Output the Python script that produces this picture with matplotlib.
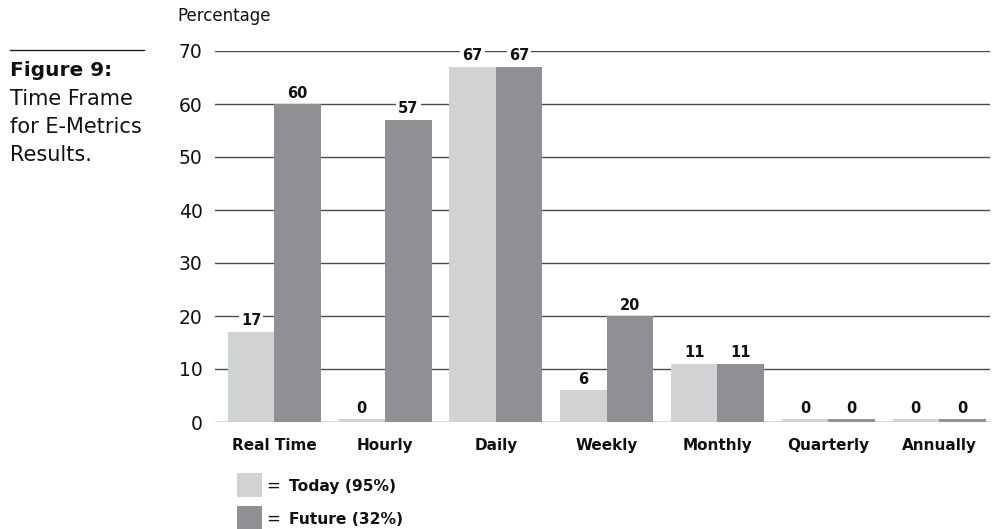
import matplotlib
matplotlib.use("Agg")
import matplotlib.pyplot as plt
from matplotlib.patches import Rectangle
from matplotlib.lines import Line2D
import numpy as np

plt.rcParams['font.family'] = ['DejaVu Sans']

categories = ["Real Time", "Hourly", "Daily", "Weekly", "Monthly", "Quarterly", "Annually"]
today = [17, 0, 67, 6, 11, 0, 0]
future = [60, 57, 67, 20, 11, 0, 0]
yticks = [0, 10, 20, 30, 40, 50, 60, 70]
legend_labels = ["Today (95%)", "Future (32%)"]

LIGHT = "#d1d2d4"
DARK = "#8f9094"
GRID = "#4a4a4a"
INK = "#111111"

W, H = 992, 529
fig = plt.figure(figsize=(W / 100, H / 100), dpi=100)
ax = fig.add_axes([215 / W, 107 / H, 775 / W, 371 / H])

x = np.arange(len(categories))
bw = 0.42
stub = 0.5  # thin floor shown for zero-valued bars

for vals, off, col in [(today, -bw / 2, LIGHT), (future, bw / 2, DARK)]:
    v = np.array(vals, dtype=float)
    ax.bar(x + off, v, width=bw, color=col, linewidth=0, zorder=3)
    zero = v == 0
    ax.bar((x + off)[zero], stub, width=bw, color=col, linewidth=0, zorder=3)
    for xi, vi in zip(x + off, v):
        ax.annotate(f"{int(vi)}", (xi, max(vi, stub)), xytext=(0, 2.5),
                    textcoords="offset points", ha="center", va="bottom",
                    fontsize=10.5, fontweight="bold", color=INK, zorder=5,
                    bbox=dict(boxstyle="square,pad=0.15", fc="white", ec="none"))

ax.set_xlim(-0.535, len(categories) - 1 + 0.46)
ax.set_ylim(0, 70)
ax.set_yticks(yticks)
ax.set_yticklabels([str(t) for t in yticks], fontsize=13.5, color=INK)
ax.set_xticks(x)
ax.set_xticklabels(categories, fontsize=11, fontweight="bold", color=INK)
ax.tick_params(axis="both", length=0)
ax.tick_params(axis="y", pad=9)
ax.tick_params(axis="x", pad=11.5)
for s in ax.spines.values():
    s.set_visible(False)
ax.yaxis.grid(True, color=GRID, linewidth=1.0, zorder=1)
ax.set_axisbelow(True)

# y-axis title
fig.text(224 / W, 1 - 16 / H, "Percentage", fontsize=12, color=INK,
         ha="center", va="center")

# figure caption on the left
fig.add_artist(Line2D([10 / W, 144 / W], [1 - 50 / H, 1 - 50 / H],
                      color="#222222", linewidth=1.0))
fig.text(10 / W, 1 - 71 / H, "Figure 9:", fontsize=14.5, fontweight="bold",
         color=INK, va="center")
for i, line in enumerate(["Time Frame", "for E-Metrics", "Results."]):
    fig.text(10 / W, 1 - (99 + 28 * i) / H, line, fontsize=15,
             color=INK, va="center")

# legend below the chart
for i, (lab, col) in enumerate(zip(legend_labels, [LIGHT, DARK])):
    top = 473 + 33 * i
    fig.add_artist(Rectangle((237 / W, 1 - (top + 24) / H), 25 / W, 24 / H,
                             facecolor=col, edgecolor="none",
                             transform=fig.transFigure))
    yc = 1 - (top + 13) / H
    fig.text(266 / W, yc, "=", fontsize=12, color=INK, va="center")
    fig.text(289 / W, yc, lab, fontsize=11.2, fontweight="bold",
             color=INK, va="center")

fig.savefig("out.png", dpi=100)
